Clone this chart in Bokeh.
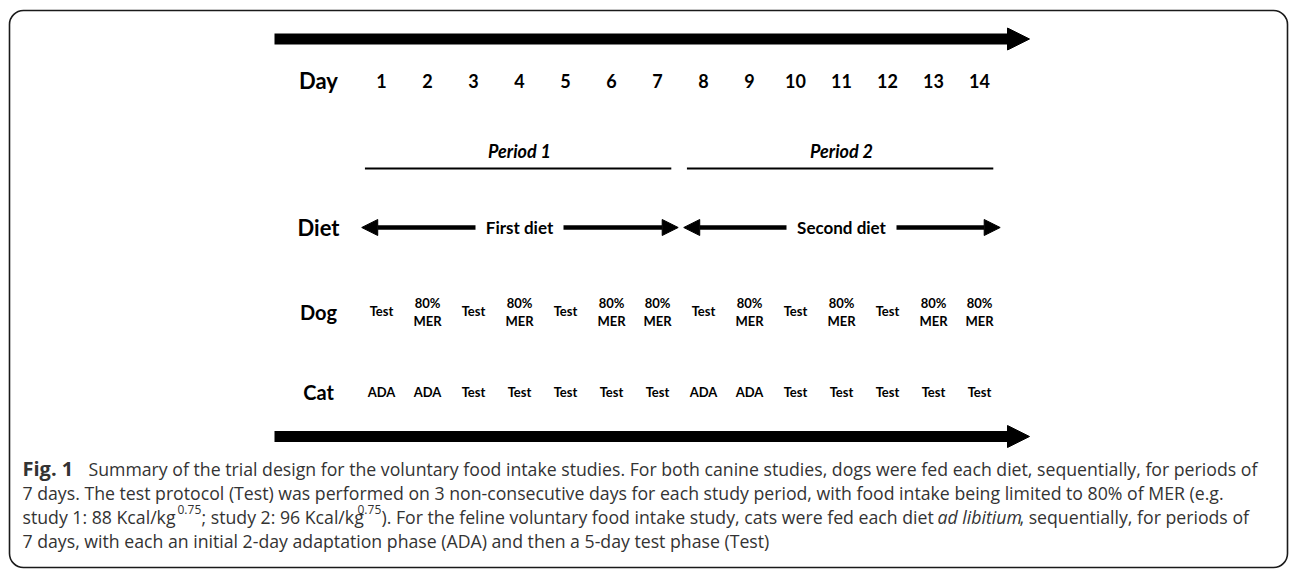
from bokeh.plotting import figure
from bokeh.models import Range1d, Arrow, NormalHead, BoxAnnotation
from bokeh.core.properties import value
from bokeh.embed import file_html
from bokeh.resources import INLINE

# ---------------- data ----------------
days = list(range(1, 15))
day_labels = [str(d) for d in days]
row_labels = ["Day", "Diet", "Dog", "Cat"]
periods = ["Period 1", "Period 2"]
period_first_day = [1, 8]
period_last_day = [7, 14]
diets = ["First diet", "Second diet"]
dog_plan = ["Test", "80%\nMER", "Test", "80%\nMER", "Test", "80%\nMER", "80%\nMER",
            "Test", "80%\nMER", "Test", "80%\nMER", "Test", "80%\nMER", "80%\nMER"]
cat_plan = ["ADA", "ADA", "Test", "Test", "Test", "Test", "Test",
            "ADA", "ADA", "Test", "Test", "Test", "Test", "Test"]

caption_l1_bold = "Fig. 1"
caption_l1 = ("Summary of the trial design for the voluntary food intake studies. For both canine "
              "studies, dogs were fed each diet, sequentially, for periods of")
caption_l2 = ("7 days. The test protocol (Test) was performed on 3 non-consecutive days for each "
              "study period, with food intake being limited to 80% of MER (e.g.")
caption_l3 = ["study 1: 88 Kcal/kg", "0.75", "; study 2: 96 Kcal/kg", "0.75",
              "). For the feline voluntary food intake study, cats were fed each diet ",
              "ad libitium", ", sequentially, for periods of"]
caption_l4 = "7 days, with each an initial 2-day adaptation phase (ADA) and then a 5-day test phase (Test)"

# ---------------- layout ----------------
W, H = 1290, 571
DAY1_PX, PX_PER_DAY = 381, 46


def px(xp):
    """horizontal page pixel -> day units"""
    return 1 + (xp - DAY1_PX) / PX_PER_DAY


p = figure(width=W, height=H, output_backend="svg", toolbar_location=None,
           x_range=Range1d(px(0), px(W)), y_range=Range1d(H, 0),
           x_axis_location=None, y_axis_location=None, min_border=0)
p.grid.visible = False
p.outline_line_color = None
p.background_fill_color = "white"
p.border_fill_color = "white"

FONT = value("Lato")
CAP_FONT = value("Open Sans")

# frame border
p.add_layout(BoxAnnotation(left=px(9), right=px(1287), top=10, bottom=567,
                           fill_alpha=0, line_color="#1a1a1a", line_alpha=1, line_width=1.6,
                           border_radius=14))

# big timeline arrows
for yy in (38.5, 436):
    p.add_layout(Arrow(x_start=px(274), y_start=yy, x_end=px(1029), y_end=yy,
                       line_width=11, line_color="black",
                       end=NormalHead(size=22, fill_color="black", line_color="black", line_width=1)))

# row labels
row_y = [80, 227, 311, 391]
row_size = ["22px", "22px", "20px", "20px"]
for lab, yy, fs in zip(row_labels, row_y, row_size):
    p.text(x=[px(318)], y=[yy], text=[lab], text_font=FONT, text_font_style="bold",
           text_font_size=fs, text_align="center", text_baseline="middle", text_color="black")

# days
p.text(x=days, y=[80] * len(days), text=day_labels, text_font=FONT, text_font_style="bold",
       text_font_size="18px", text_align="center", text_baseline="middle", text_color="black")

# periods
for name, d0, d1 in zip(periods, period_first_day, period_last_day):
    p.text(x=[(d0 + d1) / 2], y=[150], text=[name], text_font=FONT,
           text_font_style="bold italic", text_font_size="18px", text_align="center",
           text_baseline="middle", text_color="black")
    p.segment(x0=[d0 - 0.36], y0=[168], x1=[d1 + 0.30], y1=[168], line_color="black",
              line_width=2)

# diets
diet_gap_px = [44, 55]
for name, d0, d1, gap in zip(diets, period_first_day, period_last_day, diet_gap_px):
    c = (d0 + d1) / 2
    p.text(x=[c], y=[227], text=[name], text_font=FONT, text_font_style="bold",
           text_font_size="17px", text_align="center", text_baseline="middle", text_color="black")
    g = gap / PX_PER_DAY
    p.add_layout(Arrow(x_start=c - g, y_start=227, x_end=d0 - 0.43, y_end=227,
                       line_width=4.5, line_color="black",
                       end=NormalHead(size=16, fill_color="black", line_color="black", line_width=1)))
    p.add_layout(Arrow(x_start=c + g, y_start=227, x_end=d1 + 0.45, y_end=227,
                       line_width=4.5, line_color="black",
                       end=NormalHead(size=16, fill_color="black", line_color="black", line_width=1)))

# dog plan
single_x, single_t, top_x, top_t, bot_t = [], [], [], [], []
for d, t in zip(days, dog_plan):
    parts = t.split("\n")
    if len(parts) == 1:
        single_x.append(d); single_t.append(t)
    else:
        top_x.append(d); top_t.append(parts[0]); bot_t.append(parts[1])
p.text(x=single_x, y=[310] * len(single_x), text=single_t, text_font=FONT, text_font_style="bold",
       text_font_size="13px", text_align="center", text_baseline="middle", text_color="black")
p.text(x=top_x, y=[302] * len(top_x), text=top_t, text_font=FONT, text_font_style="bold",
       text_font_size="13px", text_align="center", text_baseline="middle", text_color="black")
p.text(x=top_x, y=[320] * len(top_x), text=bot_t, text_font=FONT, text_font_style="bold",
       text_font_size="13px", text_align="center", text_baseline="middle", text_color="black")

# cat plan
p.text(x=days, y=[391] * len(days), text=cat_plan, text_font=FONT, text_font_style="bold",
       text_font_size="13px", text_align="center", text_baseline="middle", text_color="black")

# caption
CAP_COL = "#333333"
CAP_FS = "17.7px"
LY = [468, 492, 516, 540]


def cap(xp, yy, t, style="normal", fs=CAP_FS):
    p.text(x=[px(xp)], y=[yy], text=[t], text_font=CAP_FONT, text_font_style=style,
           text_font_size=fs, text_align="left", text_baseline="middle", text_color=CAP_COL)


cap(22, LY[0], caption_l1_bold, "bold", "20px")
cap(88, LY[0], caption_l1)
cap(22, LY[1], caption_l2)
l3_x = [22, 177, 201, 357, 381, 937, 1019]
l3_style = ["normal", "sup", "normal", "sup", "normal", "italic", "normal"]
for xp, t, st in zip(l3_x, caption_l3, l3_style):
    if st == "sup":
        cap(xp, LY[2] - 7, t, "normal", "12px")
    else:
        cap(xp, LY[2], t, st)
cap(22, LY[3], caption_l4)

open("out.html", "w").write(file_html(p, INLINE))
